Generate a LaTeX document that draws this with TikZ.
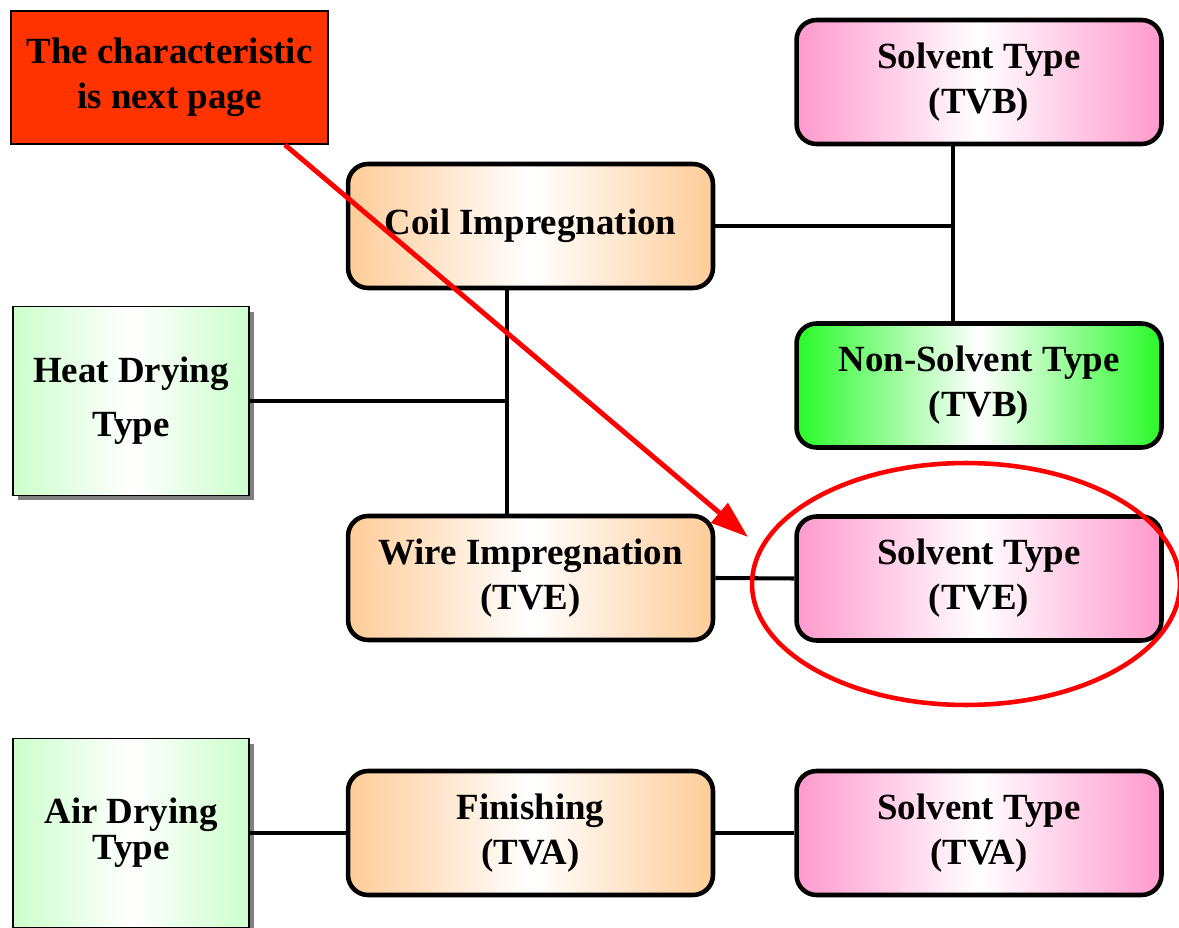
\documentclass[tikz,border=0pt]{standalone}
\usepackage{fontspec}
\setmainfont{Liberation Serif}
\usetikzlibrary{arrows.meta,shadows}
\definecolor{notered}{RGB}{255,51,0}
\definecolor{boxpink}{RGB}{255,153,204}
\definecolor{boxorange}{RGB}{255,204,153}
\definecolor{boxgreen}{RGB}{40,250,40}
\definecolor{drygreen}{RGB}{204,255,204}
\begin{document}
\begin{tikzpicture}[x=0.02cm,y=-0.02cm,
    every node/.style={font=\fontsize{21}{25.6}\selectfont\bfseries, align=center},
    procbox/.style={draw, line width=2.6pt, rounded corners=0.4cm,
      minimum width=7.3cm, minimum height=2.48cm, inner sep=0pt},
    orangebox/.style={procbox, left color=boxorange, right color=boxorange, middle color=white},
    pinkbox/.style={procbox, left color=boxpink, right color=boxpink, middle color=white},
    greenbox/.style={procbox, left color=boxgreen, right color=boxgreen, middle color=white},
    drybox/.style={draw, line width=1pt, minimum width=4.72cm, minimum height=3.78cm, inner sep=0pt,
      left color=drygreen, right color=drygreen, middle color=white,
      drop shadow={shadow xshift=0.1cm, shadow yshift=-0.1cm, fill=gray, opacity=1}},
    link/.style={line width=2.3pt}]
  \useasboundingbox (0,0) rectangle (1179,928);
  \draw
    (169.5,77.5) node[draw, line width=1pt, fill=notered, minimum width=6.34cm, minimum height=2.66cm] (note){The characteristic\\is next page}
    (979,82) node[pinkbox] (tvb){Solvent Type\\(TVB)}
    (530.5,226) node[orangebox] (coil){Coil Impregnation}
    (979,385.5) node[greenbox] (nontvb){Non-Solvent Type\\(TVB)}
    (131,401) node[drybox] (heat){Heat Drying\\[5pt]Type}
    (530.5,578) node[orangebox] (wire){Wire Impregnation\\(TVE)}
    (979,578.5) node[pinkbox] (tve){Solvent Type\\(TVE)}
    (131,833) node[drybox] (air){Air Drying\\[-5pt]Type}
    (530.5,833) node[orangebox] (fin){Finishing\\(TVA)}
    (979,833) node[pinkbox] (tva){Solvent Type\\(TVA)};
  \coordinate (tvbdown) at ([xshift=-0.52cm]tvb.south);
  \coordinate (nontvbup) at ([xshift=-0.52cm]nontvb.north);
  \coordinate (coildown) at ([xshift=-0.47cm]coil.south);
  \coordinate (wireup) at ([xshift=-0.47cm]wire.north);
  \begin{scope}[link]
    \draw (tvbdown) to (nontvbup);
    \draw (coil.east) to (coil.east -| tvbdown);
    \draw (coildown) to (wireup);
    \draw (heat.east) to (heat.east -| coildown);
    \draw (wire.east) to (tve.west);
    \draw (air.east) to (fin.west);
    \draw (fin.east) to (tva.west);
  \end{scope}
  \draw[red, line width=2.6pt] (966,584) ellipse [x radius=4.28cm, y radius=2.42cm];
  \coordinate (tip) at (748,537);
  \draw[red, line width=2.8pt, -{Triangle[length=0.75cm,width=0.5cm]}] (note.south -| 285,0) to (tip);
\end{tikzpicture}
\end{document}
